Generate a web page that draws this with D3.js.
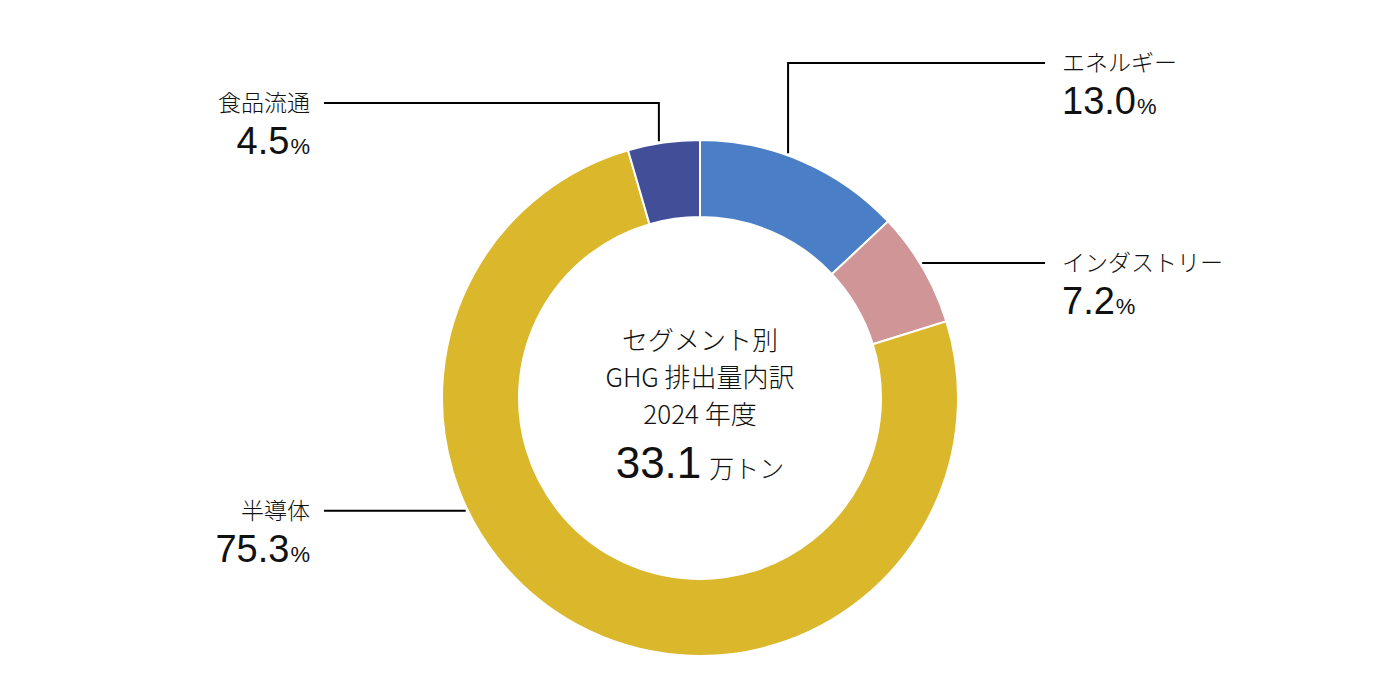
<!DOCTYPE html>
<html>
<head>
  <meta charset="UTF-8">
  <style>
    body { margin: 0; background: white; }
    svg text { font-family: "Liberation Sans", Arial, "Noto Sans CJK JP", sans-serif; fill: #111; }
    .jp { font-family: "Noto Sans CJK JP", sans-serif; font-weight: 300; }
    .leader { fill: none; stroke: #000; stroke-width: 2; }
  </style>
</head>
<body>
<svg id="chart" width="1400" height="700"></svg>
<script src="https://d3js.org/d3.v7.min.js"></script>
<script>
// data
const segments = ["エネルギー", "インダストリー", "半導体", "食品流通"];
const shares = [13.0, 7.2, 75.3, 4.5];
const colors = ["#4a7fc7", "#d09597", "#dab72b", "#424f98"];
const centerLines = ["セグメント別", "GHG 排出量内訳", "2024 年度"];
const totalValue = "33.1";
const totalUnit = "万トン";

// label layout: leader anchor angle (deg, clockwise from top), label side, label y (null = same as anchor)
const labelLayout = [
  { angle: 19.8, side: "right", ly: 63 },
  { angle: 58.7, side: "right", ly: null },
  { angle: 244.3, side: "left", ly: null },
  { angle: -9.1, side: "left", ly: 103 }
];

const cx = 700, cy = 398, outerR = 258, innerR = 181;
const svg = d3.select("#chart");
const g = svg.append("g").attr("transform", `translate(${cx},${cy})`);

const pie = d3.pie().sort(null).value(d => d)(shares);
const arc = d3.arc().innerRadius(innerR).outerRadius(outerR);

g.selectAll("path.slice")
  .data(pie)
  .enter()
  .append("path")
  .attr("class", "slice")
  .attr("d", arc)
  .attr("fill", (d, i) => colors[i])
  .attr("stroke", "white")
  .attr("stroke-width", 2);

// leader lines + labels
labelLayout.forEach((l, i) => {
  const a = l.angle * Math.PI / 180;
  const r = outerR + 2;
  const ax = Math.sin(a) * r, ay = -Math.cos(a) * r;
  const ly = l.ly == null ? ay : l.ly - cy;
  const endX = l.side == "right" ? 1045 - cx : 324 - cx;
  const pts = [[ax, ay], [ax, ly], [endX, ly]];
  g.append("path").attr("class", "leader").attr("d", d3.line()(pts));

  const tx = l.side == "right" ? 1062 - cx : 310 - cx;
  const anchor = l.side == "right" ? "start" : "end";
  g.append("text")
    .attr("class", "jp")
    .attr("x", tx).attr("y", ly)
    .attr("dy", "0.36em")
    .attr("text-anchor", anchor)
    .attr("font-size", 23)
    .text(segments[i]);
  const t = g.append("text")
    .attr("x", tx).attr("y", ly + 51)
    .attr("text-anchor", anchor);
  t.append("tspan").attr("font-size", 38).text(shares[i].toFixed(1));
  t.append("tspan").attr("font-size", 22).attr("dx", 1).text("%");
});

// center text
centerLines.forEach((s, i) => {
  g.append("text")
    .attr("class", "jp")
    .attr("x", 0).attr("y", -57 + i * 37)
    .attr("dy", "0.36em")
    .attr("text-anchor", "middle")
    .attr("font-size", 26)
    .text(s);
});
const tot = g.append("text").attr("x", 0).attr("y", 80).attr("text-anchor", "middle");
tot.append("tspan").attr("font-size", 44).text(totalValue);
tot.append("tspan").attr("class", "jp").attr("font-size", 25).attr("dx", 8).text(totalUnit);
</script>
</body>
</html>
